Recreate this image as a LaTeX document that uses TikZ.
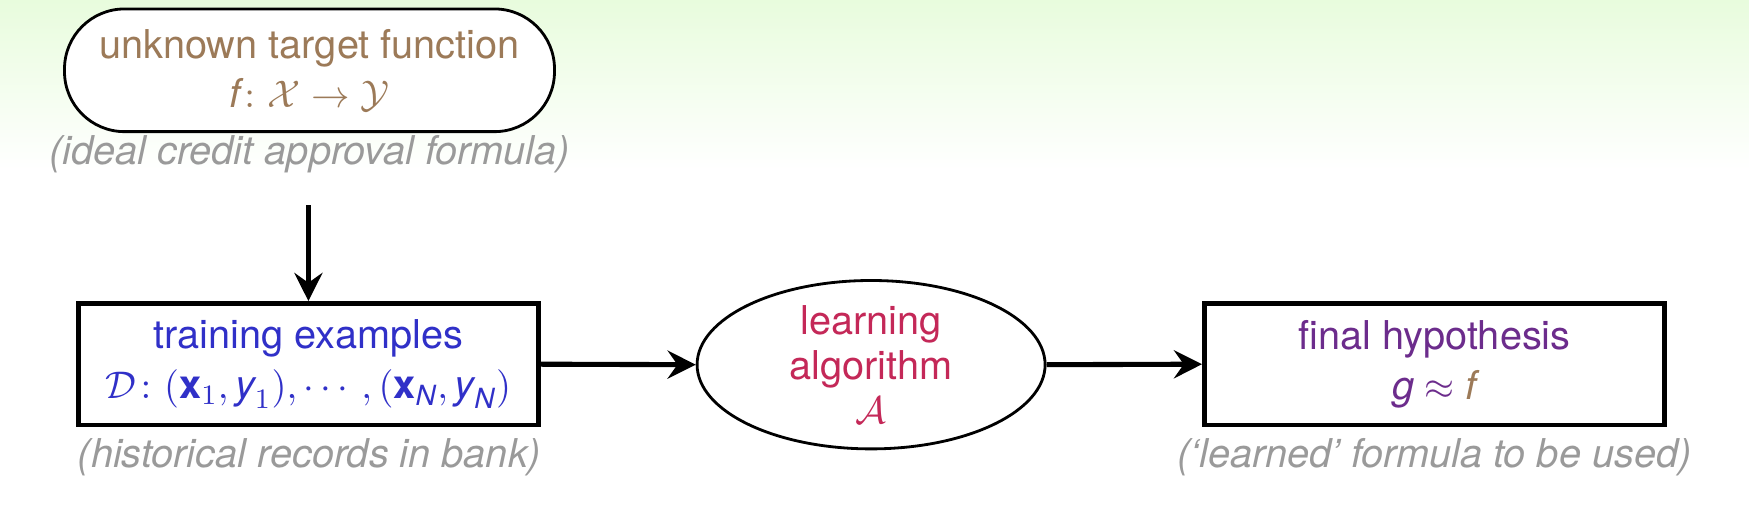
\documentclass[tikz,border=0pt]{standalone}
\usepackage{amsmath}
\usepackage{fontspec}
\setmainfont{TeX Gyre Heros}
\usepackage{xcolor}
\usetikzlibrary{arrows,arrows.meta,calc,shapes.geometric}
\definecolor{targetbrown}{HTML}{9C7A58}
\definecolor{trainblue}{HTML}{3030C8}
\definecolor{algred}{HTML}{C42858}
\definecolor{hypopurple}{HTML}{6C2C8C}
\definecolor{notegray}{HTML}{9A9A9A}
\definecolor{slidegreen}{HTML}{E8FCDD}
\tikzset{
  databox/.style={draw=black,line width=1.35pt,fill=white,minimum width=4.6cm,minimum height=1.216cm,align=center,inner sep=1pt,font=\fontsize{11.3}{14.2}\selectfont},
  notetext/.style={text=notegray,font=\fontsize{11.3}{13}\selectfont\itshape},
  flow/.style={-{Stealth[length=8pt,width=8pt,inset=2.8pt]},line width=1.45pt}
}
\begin{document}
\begin{tikzpicture}[font=\fontsize{11.3}{12.6}\selectfont]
    \useasboundingbox (0,0) rectangle (17.49,-5.29);
    \fill[white] (0,0) rectangle (17.49,-5.29);
    \shade[top color=slidegreen,bottom color=white] (0,0) rectangle (17.49,-1.7);
    \node[draw=black,line width=0.8pt,rounded corners=0.6cm,fill=white,minimum width=4.9cm,minimum height=1.227cm,align=center,inner sep=1pt,text=targetbrown,font=\fontsize{11.3}{14}\selectfont] (target) at (3.095,-0.703) {unknown target function\\ $\textit{f}\colon \mathcal{X}\to\mathcal{Y}$};
    \node[notetext] (targetnote) at (3.095,-1.539) {(ideal credit approval formula)};
    \node[databox,text=trainblue] (train) at (3.084,-3.642) {training examples\\ $\mathcal{D}\colon (\textbf{x}_1,\textit{y}_1),\cdots,(\textbf{x}_{\textit{N}},\textit{y}_{\textit{N}})$};
    \node[notetext] (trainnote) at (3.095,-4.573) {(historical records in bank)};
    \node[draw=black,line width=0.8pt,ellipse,minimum width=3.48cm,minimum height=1.684cm,align=center,inner xsep=0pt,inner ysep=-0.12cm,text=algred] (alg) at (8.711,-3.647) {learning\\ algorithm\\ $\mathcal{A}$};
    \node[databox,text=hypopurple] (final) at (14.344,-3.642) {final hypothesis\\ $\textit{g}\approx\textcolor{targetbrown}{\textit{f}}$};
    \node[notetext] (finalnote) at (14.344,-4.573) {(`learned' formula to be used)};
    \draw[flow,shorten <=0.2cm] (targetnote.south -| train.north) -- (train.north);
    \draw[flow] (train.east) -- (alg.west);
    \draw[flow] (alg.east) -- (final.west);
\end{tikzpicture}
\end{document}
